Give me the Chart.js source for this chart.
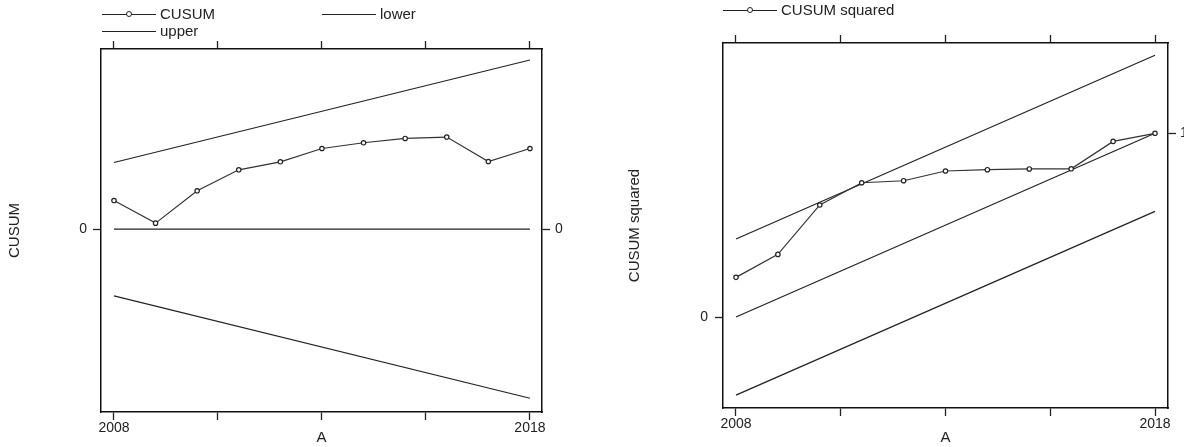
<!DOCTYPE html>
<html>
<head>
<meta charset="utf-8">
<title>CUSUM tests</title>
<script src="https://cdn.jsdelivr.net/npm/chart.js@4.4.0/dist/chart.umd.min.js"></script>
<style>
body { margin:0; background:#fff; width:1184px; height:447px; overflow:hidden; position:relative; font-family:"Liberation Sans", Arial, sans-serif; }
canvas { position:absolute; top:0; }
#chart1 { left:0; }
#chart2 { left:590px; }
.sample { position:absolute; width:54px; height:0; border-top:1px solid #222; }
.sample .dot { position:absolute; left:24px; top:-4px; width:4px; height:4px; border:1px solid #222; border-radius:50%; background:#fff; }
.keytext { position:absolute; font-size:15px; line-height:18px; color:#222; white-space:nowrap; }
</style>
</head>
<body>
<canvas id="chart1" width="590" height="447"></canvas>
<canvas id="chart2" width="594" height="447"></canvas>

<script>
// years on the x axis
var years = [2008, 2009, 2010, 2011, 2012, 2013, 2014, 2015, 2016, 2017, 2018];
var xTicks = [2008, 2010.5, 2013, 2015.5, 2018];
var xTickLabels = ["2008", "", "", "", "2018"];

// CUSUM test (left panel)
var cusum = [2.86, 0.6, 3.83, 5.93, 6.73, 8.06, 8.63, 9.06, 9.2, 6.76, 8.06];
var boundYears = [2008, 2018];
var cusumUpper = [6.66, 16.9];
var cusumLower = [-6.66, -16.9];
var cusumZero = [0, 0];

// CUSUM of squares test (right panel)
var cusumSq = [0.216, 0.341, 0.610, 0.731, 0.742, 0.795, 0.802, 0.806, 0.807, 0.956, 1.0];
var sqMid = [0, 1];
var sqUpper = [0.425, 1.425];
var sqLower = [-0.425, 0.575];

var ink = "#222" ;
var tickFont = { family: "'Liberation Sans', Arial, sans-serif", size: 14 } ;
var titleFont = { family: "'Liberation Sans', Arial, sans-serif", size: 15 } ;

function pairs(xs, ys){
    var out = [] ;
    for(let i = 0 ; i < xs.length ; i += 1){
        out.push({ x: xs[i], y: ys[i] }) ;
    }
    return out ;
}

function markedLine(label, xs, ys){
    return {
        label: label, data: pairs(xs, ys),
        borderColor: "#333", borderWidth: 1.2,
        pointRadius: 2.2, pointBorderWidth: 1.2,
        pointBackgroundColor: "#fff", pointBorderColor: ink
    } ;
}

function plainLine(label, xs, ys){
    return { label: label, data: pairs(xs, ys), borderColor: ink, borderWidth: 1.2, pointRadius: 0 } ;
}

// box with ticks on all four sides
function boxScales(o){
    var xCommon = function(pos, h, labels, withTitle){
        return {
            type: "linear", position: pos, min: o.xmin, max: o.xmax,
            afterBuildTicks: function(s){ s.ticks = xTicks.map(function(v){ return { value: v } ; }) ; },
            afterFit: function(s){ s.height = h ; },
            grid: { drawOnChartArea: false, tickLength: 8, color: ink, tickWidth: 1.3 },
            border: { color: "#111", width: 1.5 },
            ticks: { color: ink, font: tickFont, padding: o.xPad, maxRotation: 0, autoSkip: false,
                     callback: function(v, i){ return labels ? xTickLabels[i] : "" ; } },
            title: { display: withTitle, text: "A", color: ink, font: titleFont, padding: { top: 0, bottom: 0 } }
        } ;
    } ;
    var yCommon = function(pos, w, tick, pad, title){
        return {
            type: "linear", position: pos, min: o.ymin, max: o.ymax,
            afterBuildTicks: function(s){ s.ticks = [{ value: tick }] ; },
            afterFit: function(s){ s.width = w ; },
            grid: { drawOnChartArea: false, tickLength: 8, color: ink, tickWidth: 1.3 },
            border: { color: "#111", width: 1.5 },
            ticks: { color: ink, font: tickFont, padding: pad, callback: function(v){ return String(v) ; } },
            title: { display: !!title, text: title || "", color: ink, font: titleFont, padding: { top: o.titlePad, bottom: 0 } }
        } ;
    } ;
    return {
        x: xCommon("bottom", o.bottom, true, true),
        xTop: xCommon("top", o.top, false, false),
        y: yCommon("left", o.left, 0, o.yPad, o.yTitle),
        yRight: yCommon("right", o.right, o.rightTick, o.rPad, null)
    } ;
}

function baseOptions(scales){
    return {
        responsive: false, animation: false, devicePixelRatio: 1,
        layout: { padding: 0 },
        plugins: { legend: { display: false }, tooltip: { enabled: false } },
        scales: scales
    } ;
}

new Chart(document.getElementById("chart1").getContext("2d"), {
    type: "line",
    data: {
        datasets: [
            markedLine("CUSUM", years, cusum),
            plainLine("lower", boundYears, cusumLower),
            plainLine("upper", boundYears, cusumUpper),
            plainLine("", boundYears, cusumZero)
        ]
    },
    options: baseOptions(boxScales({
        xmin: 2007.688, xmax: 2018.29, ymin: -18.27, ymax: 18.0,
        left: 101, right: 48, top: 49, bottom: 35,
        xPad: 0, yPad: 6, rPad: 5, rightTick: 0,
        yTitle: "CUSUM", titlePad: 6
    }))
}) ;

new Chart(document.getElementById("chart2").getContext("2d"), {
    type: "line",
    data: {
        datasets: [
            markedLine("CUSUM squared", years, cusumSq),
            plainLine("", boundYears, sqUpper),
            plainLine("", boundYears, sqMid),
            plainLine("", boundYears, sqLower)
        ]
    },
    options: baseOptions(boxScales({
        xmin: 2007.69, xmax: 2018.31, ymin: -0.495, ymax: 1.4916,
        left: 133, right: 16, top: 43, bottom: 39,
        xPad: 0, yPad: 7, rPad: 4, rightTick: 1,
        yTitle: "CUSUM squared", titlePad: 36
    }))
}) ;

// legends above each box
function key(label, marker, left, lineY){
    var s = document.createElement("div") ;
    s.className = "sample" ;
    s.style.left = left + "px" ;
    s.style.top = lineY + "px" ;
    if(marker){
        var d = document.createElement("div") ;
        d.className = "dot" ;
        s.appendChild(d) ;
    }
    document.body.appendChild(s) ;
    var t = document.createElement("div") ;
    t.className = "keytext" ;
    t.textContent = label ;
    t.style.left = (left + 58) + "px" ;
    t.style.top = (lineY - 9) + "px" ;
    document.body.appendChild(t) ;
}

key("CUSUM", true, 102, 14) ;
key("lower", false, 322, 14) ;
key("upper", false, 102, 31) ;
key("CUSUM squared", true, 723, 10) ;
</script>
</body>
</html>
